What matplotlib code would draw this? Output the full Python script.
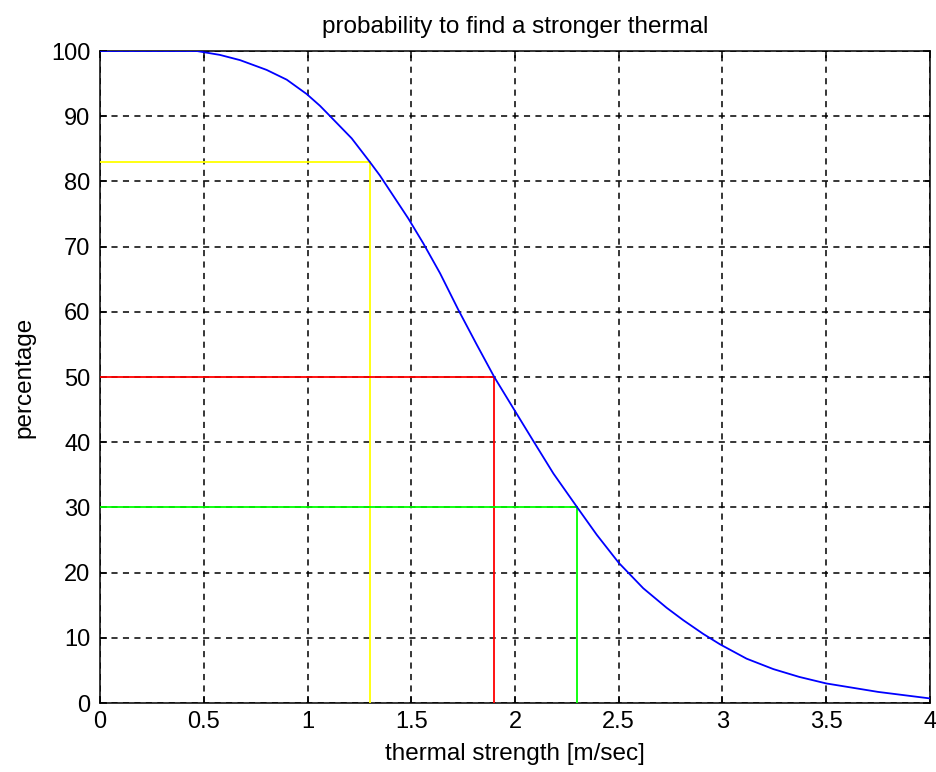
import matplotlib
matplotlib.use("Agg")
import matplotlib.pyplot as plt

# curve
strength = [0.0, 0.466, 0.578, 0.675, 0.803, 0.9, 0.996, 1.06, 1.1, 1.213, 1.3,
            1.349, 1.486, 1.558, 1.639, 1.727, 1.815, 1.9, 1.99, 2.088, 2.185,
            2.3, 2.394, 2.5, 2.618, 2.731, 2.811, 2.907, 2.988, 3.116, 3.245,
            3.37, 3.5, 3.75, 4.0]
percent = [100.0, 100.0, 99.4, 98.6, 97.1, 95.6, 93.4, 91.6, 90.3, 86.6, 83.0,
           80.9, 74.3, 70.5, 65.9, 60.3, 55.0, 50.0, 45.3, 40.2, 35.2,
           30.0, 25.8, 21.5, 17.6, 14.6, 12.7, 10.6, 9.0, 6.8, 5.2,
           4.0, 3.0, 1.7, 0.7]

# marked levels: (x, y, colour)
marks_x = [1.3, 1.9, 2.3]
marks_y = [83, 50, 30]
marks_c = ["#ffff00", "#ff0000", "#00ff00"]

xticks = [0, 0.5, 1, 1.5, 2, 2.5, 3, 3.5, 4]
xticklabels = ["0", "0.5", "1", "1.5", "2", "2.5", "3", "3.5", "4"]
yticks = list(range(0, 101, 10))

plt.rcParams['font.family'] = ['Liberation Sans', 'DejaVu Sans']

fig = plt.figure(figsize=(9.37, 7.72), dpi=100)
ax = fig.add_axes([100/937, 69/772, 830/937, 652/772])

for mx, my, mc in zip(marks_x, marks_y, marks_c):
    ax.plot([0, mx], [my, my], color=mc, lw=1.3, zorder=3)
    ax.plot([mx, mx], [0, my], color=mc, lw=1.3, zorder=3)

ax.plot(strength, percent, color="#0000ff", lw=1.3, zorder=4)

ax.set_xlim(0, 4)
ax.set_ylim(0, 100)
ax.set_xticks(xticks)
ax.set_xticklabels(xticklabels)
ax.set_yticks(yticks)
ax.grid(True, color="black", linestyle=(0, (4, 3.5)), lw=1.1)
ax.tick_params(direction="in", top=True, right=True, length=5, width=1.1,
               labelsize=17)
ax.tick_params(axis="y", pad=7)
ax.tick_params(axis="x", pad=6)
for s in ax.spines.values():
    s.set_linewidth(1.1)

ax.set_title("probability to find a stronger thermal", fontsize=17.5, pad=13)
ax.set_xlabel("thermal strength [m/sec]", fontsize=17.5, labelpad=7)
ax.set_ylabel("percentage", fontsize=17.5, labelpad=11)

fig.savefig("out.png", dpi=100)
